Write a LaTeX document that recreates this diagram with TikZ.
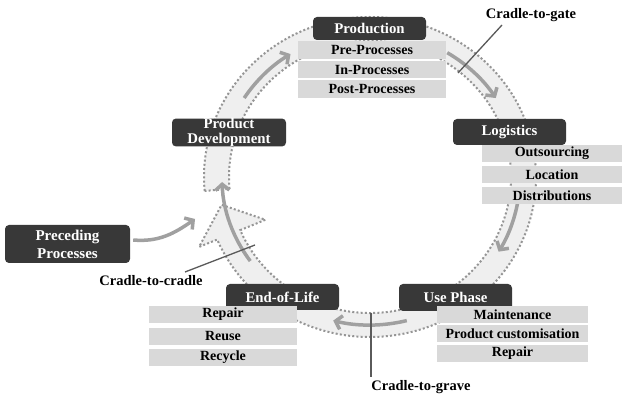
\documentclass[tikz,border=0pt]{standalone}
\usepackage{fontspec}
\setmainfont{Liberation Serif}
\usetikzlibrary{calc,arrows.meta}
\definecolor{darkbox}{HTML}{383838}
\definecolor{subbox}{HTML}{D9D9D9}
\definecolor{bandfill}{HTML}{EFEFEF}
\definecolor{banddot}{HTML}{959595}
\definecolor{flowgray}{HTML}{A0A0A0}
\definecolor{cradleline}{HTML}{5A5A5A}
\begin{document}
\begin{tikzpicture}[x=1pt,y=-1pt,
  headbox/.style={fill=darkbox,text=white,rounded corners=4pt,inner sep=0pt,
    font=\bfseries\fontsize{14.8}{14.8}\selectfont,align=center},
  subitem/.style={fill=subbox,text=black,inner sep=0pt,
    font=\bfseries\fontsize{14}{14}\selectfont},
  cradlelabel/.style={inner sep=0pt,font=\bfseries\fontsize{14.5}{14.5}\selectfont},
  band/.style={fill=bandfill,draw=banddot,line width=2pt,dash pattern=on 2pt off 2.2pt},
  flow/.style={draw=flowgray,line width=3.5pt,-{Straight Barb[length=6pt,width=14pt]}},
  cradle/.style={draw=cradleline,line width=1.3pt}]
\useasboundingbox (0,0) rectangle (622,395);
\fill[white] (0,0) rectangle (622,395);
\coordinate (c) at (370,177);
% ring band with arrowhead
\path[band] ($(c)+(175:166 and 160)$)
  arc[start angle=175,end angle=517,x radius=166,y radius=160]
  -- ($(c)+(517:185.7 and 179)$)
  -- ($(c)+(529:151.2 and 145.8)$)
  -- ($(c)+(517:113.6 and 109.5)$)
  -- ($(c)+(517:141 and 136)$)
  arc[start angle=517,end angle=175,x radius=141,y radius=136]
  -- cycle;
% flow arrows inside the band
\draw[flow] ($(c)+(213:150 and 145)$) arc[start angle=213,end angle=238,x radius=150,y radius=145];
\draw[flow] ($(c)+(301:150 and 145)$) arc[start angle=301,end angle=327,x radius=150,y radius=145];
\draw[flow] ($(c)+(370:150 and 145)$) arc[start angle=370,end angle=391,x radius=150,y radius=145];
\draw[flow] ($(c)+(436:152 and 148)$) arc[start angle=436,end angle=464,x radius=152,y radius=148];
\draw[flow] ($(c)+(144:148 and 143)$) arc[start angle=144,end angle=178,x radius=148,y radius=143];
% boxes
\node[headbox,minimum width=113,minimum height=23] (prod) at (369.5,28.5) {Production};
\node[subitem,minimum width=148,minimum height=17.5] (pre) at (372,50) {Pre-Processes};
\node[subitem,minimum width=148,minimum height=17.5] (in) at (372,69.5) {In-Processes};
\node[subitem,minimum width=148,minimum height=17.5] (post) at (372,89) {Post-Processes};
\node[headbox,minimum width=113,minimum height=26] (log) at (509.5,132) {Logistics};
\node[subitem,minimum width=140,minimum height=17] (out) at (552,153.5) {Outsourcing};
\node[subitem,minimum width=140,minimum height=17] (loc) at (552,174.5) {Location};
\node[subitem,minimum width=140,minimum height=17] (dist) at (552,195.5) {Distributions};
\node[headbox,minimum width=113,minimum height=27] (use) at (455.5,297.5) {Use Phase};
\node[subitem,minimum width=151,minimum height=17] (maint) at (512.5,315) {Maintenance};
\node[subitem,minimum width=151,minimum height=17] (cust) at (512.5,333.5) {Product customisation};
\node[subitem,minimum width=151,minimum height=17] (urep) at (512.5,353.5) {Repair};
\node[headbox,minimum width=113,minimum height=26] (eol) at (282.5,297) {End-of-Life};
\node[subitem,minimum width=148,minimum height=17] (erep) at (223,314.5) {Repair};
\node[subitem,minimum width=148,minimum height=17] (reuse) at (223,336.5) {Reuse};
\node[subitem,minimum width=148,minimum height=17] (recyc) at (223,357.5) {Recycle};
\node[headbox,minimum width=114,minimum height=27,font=\bfseries\fontsize{14.8}{14.5}\selectfont] (pd) at (229,132.5) {Product\\Development};
\node[headbox,minimum width=125,minimum height=38,font=\bfseries\fontsize{15}{18}\selectfont] (pp) at (67.5,244) {Preceding\\Processes};
% preceding arrow
\coordinate (ppend) at (195,219);
\draw[flow] ($(pp.east)+(3,-4)$) to[out=-5,in=215] (ppend);
% cradle labels and lines
\node[cradlelabel] (gate) at (531,15) {Cradle-to-gate};
\coordinate (gatestart) at (502,25);
\coordinate (gateend) at (458,73);
\draw[cradle] (gatestart) -- (gateend);
\node[cradlelabel] (c2c) at (151,281) {Cradle-to-cradle};
\coordinate (c2cstart) at (185,272);
\coordinate (c2cend) at (255,245);
\draw[cradle] (c2cstart) -- (c2cend);
\node[cradlelabel] (grave) at (421,387) {Cradle-to-grave};
\coordinate (gravetop) at (371,313);
\coordinate (gravebot) at (371,377);
\draw[cradle] (gravetop) -- (gravebot);
\end{tikzpicture}
\end{document}
